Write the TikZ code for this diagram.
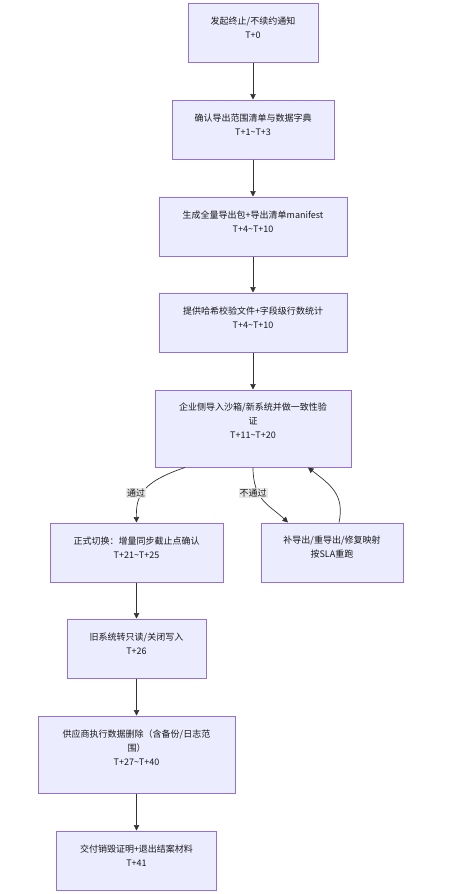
\documentclass[tikz,border=0pt]{standalone}
\usepackage{fontspec}
\setmainfont{Noto Sans CJK SC}
\usetikzlibrary{arrows.meta,calc}
\definecolor{boxfill}{HTML}{ECECFF}
\definecolor{boxline}{HTML}{9370DB}
\definecolor{edge}{HTML}{333333}
\definecolor{lblbg}{HTML}{E8E8E8}
\begin{document}
\begin{tikzpicture}[x=1pt,y=-1pt,
  box/.style={draw=boxline, fill=boxfill, line width=1pt, inner sep=0pt},
  txt/.style={font=\fontsize{9}{14}\selectfont, text=black!90, align=center, inner sep=0pt},
  conn/.style={draw=edge, line width=0.7pt, -{Triangle[length=5.5pt,width=5.5pt]}},
  elabel/.style={fill=lblbg, font=\fontsize{9}{11}\selectfont, text=black!90, inner sep=1pt}]
\useasboundingbox (0,0) rectangle (473,894);
% boxes
\node[box, minimum width=130, minimum height=59] (n1) at (253,32.5) {};
\node[box, minimum width=162, minimum height=59] (n2) at (253,129.5) {};
\node[box, minimum width=188, minimum height=59] (n3) at (253,226.5) {};
\node[box, minimum width=188, minimum height=59] (n4) at (253,322.5) {};
\node[box, minimum width=196, minimum height=77] (n5) at (253,428.5) {};
\node[box, minimum width=173, minimum height=59] (n6) at (136.5,552.5) {};
\node[box, minimum width=142, minimum height=59] (n7) at (332,552.5) {};
\node[box, minimum width=139, minimum height=59] (n8) at (136.5,648.5) {};
\node[box, minimum width=197, minimum height=77] (n9) at (136.5,754.5) {};
\node[box, minimum width=160, minimum height=59] (n10) at (136.5,860.5) {};
% texts
\node[txt] (t1) at ([yshift=4.5pt]n1.center) {发起终止/不续约通知\\T+0};
\node[txt] (t2) at ([yshift=4.5pt]n2.center) {确认导出范围清单与数据字典\\T+1\textasciitilde T+3};
\node[txt] (t3) at ([yshift=4.5pt]n3.center) {生成全量导出包+导出清单manifest\\T+4\textasciitilde T+10};
\node[txt] (t4) at ([yshift=4.5pt]n4.center) {提供哈希校验文件+字段级行数统计\\T+4\textasciitilde T+10};
\node[txt] (t5) at ([yshift=8pt]n5.center) {企业侧导入沙箱/新系统并做一致性验\\证\\T+11\textasciitilde T+20};
\node[txt] (t6) at ([yshift=4.5pt]n6.center) {正式切换：增量同步截止点确认\\T+21\textasciitilde T+25};
\node[txt] (t7) at ([yshift=5pt]n7.center) {补导出/重导出/修复映射\\按SLA重跑};
\node[txt] (t8) at ([yshift=4.5pt]n8.center) {旧系统转只读/关闭写入\\T+26};
\node[txt] (t9) at ([yshift=7pt]n9.center) {供应商执行数据删除（含备份/日志范\\围）\\T+27\textasciitilde T+40};
\node[txt] (t10) at ([yshift=4.5pt]n10.center) {交付销毁证明+退出结案材料\\T+41};
% connectors
\draw[conn] (n1) -- (n2);
\draw[conn] (n2) -- (n3);
\draw[conn] (n3) -- (n4);
\draw[conn] (n4) -- (n5);
\draw[conn] ([xshift=-68pt]n5.south) .. controls ([xshift=-113pt,yshift=-15pt]n5.south) and ([xshift=-117pt,yshift=-30pt]n5.south) .. (n6.north);
\draw[conn] (n5.south) .. controls ([yshift=-33pt]n5.south) and ([xshift=17pt,yshift=-38pt]n5.south) .. ([xshift=-44pt]n7.north);
\draw[conn] ([xshift=7pt]n7.north) .. controls ([xshift=13pt,yshift=28pt]n7.north) and ([xshift=-2pt,yshift=38pt]n7.north) .. ([xshift=55pt]n5.south);
\node[elabel] (l1) at (136,493) {通过};
\node[elabel] (l2) at (253,493) {不通过};
\draw[conn] (n6) -- (n8);
\draw[conn] (n8) -- (n9);
\draw[conn] (n9) -- (n10);
\end{tikzpicture}
\end{document}
